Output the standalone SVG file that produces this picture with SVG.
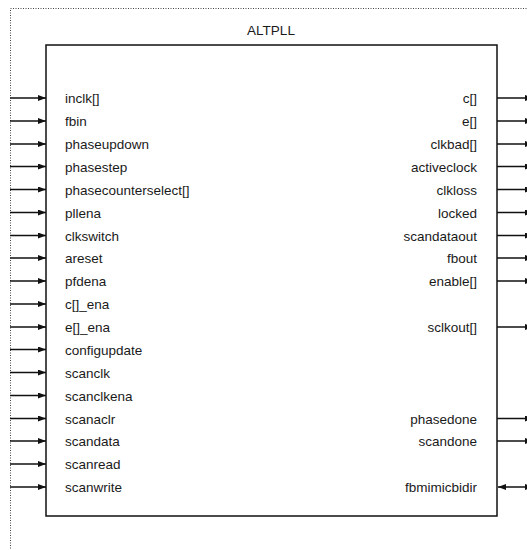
<svg xmlns="http://www.w3.org/2000/svg" width="527" height="550" viewBox="0 0 527 550">
<defs>
<style>
.t{font-family:"Liberation Sans",Arial,sans-serif;font-size:13.5px;fill:#1a1a1a}
.r{text-anchor:end}
.w{stroke:#111;stroke-width:1.3;fill:none}
.o{fill:none;stroke:#444;stroke-width:1;stroke-dasharray:1 1.5}
.box{fill:#fff;stroke:#111;stroke-width:1.5}
</style>
<marker id="ah" viewBox="0 0 8 6" refX="8" refY="3" markerWidth="8" markerHeight="6" markerUnits="userSpaceOnUse" orient="auto-start-reverse">
<path d="M0,0 L8,3 L0,6 Z" fill="#111"/>
</marker>
</defs>
<rect class="o" x="10.5" y="8.5" width="540" height="560"/>
<g id="altpll">
<rect class="box" x="46" y="45" width="451" height="471"/>
<text class="t" x="271" y="35" text-anchor="middle">ALTPLL</text>
</g>
<g id="connectors">
<line class="w" x1="10" y1="98" x2="46" y2="98" marker-end="url(#ah)"/>
<line class="w" x1="10" y1="121" x2="46" y2="121" marker-end="url(#ah)"/>
<line class="w" x1="10" y1="144" x2="46" y2="144" marker-end="url(#ah)"/>
<line class="w" x1="10" y1="166.5" x2="46" y2="166.5" marker-end="url(#ah)"/>
<line class="w" x1="10" y1="189.5" x2="46" y2="189.5" marker-end="url(#ah)"/>
<line class="w" x1="10" y1="212.5" x2="46" y2="212.5" marker-end="url(#ah)"/>
<line class="w" x1="10" y1="235.5" x2="46" y2="235.5" marker-end="url(#ah)"/>
<line class="w" x1="10" y1="258" x2="46" y2="258" marker-end="url(#ah)"/>
<line class="w" x1="10" y1="281" x2="46" y2="281" marker-end="url(#ah)"/>
<line class="w" x1="10" y1="304" x2="46" y2="304" marker-end="url(#ah)"/>
<line class="w" x1="10" y1="327" x2="46" y2="327" marker-end="url(#ah)"/>
<line class="w" x1="10" y1="349.5" x2="46" y2="349.5" marker-end="url(#ah)"/>
<line class="w" x1="10" y1="372.5" x2="46" y2="372.5" marker-end="url(#ah)"/>
<line class="w" x1="10" y1="395.5" x2="46" y2="395.5" marker-end="url(#ah)"/>
<line class="w" x1="10" y1="418.5" x2="46" y2="418.5" marker-end="url(#ah)"/>
<line class="w" x1="10" y1="441" x2="46" y2="441" marker-end="url(#ah)"/>
<line class="w" x1="10" y1="464" x2="46" y2="464" marker-end="url(#ah)"/>
<line class="w" x1="10" y1="487" x2="46" y2="487" marker-end="url(#ah)"/>

<line class="w" x1="497" y1="98" x2="533" y2="98" marker-end="url(#ah)"/>
<line class="w" x1="497" y1="121" x2="533" y2="121" marker-end="url(#ah)"/>
<line class="w" x1="497" y1="144" x2="533" y2="144" marker-end="url(#ah)"/>
<line class="w" x1="497" y1="166.5" x2="533" y2="166.5" marker-end="url(#ah)"/>
<line class="w" x1="497" y1="189.5" x2="533" y2="189.5" marker-end="url(#ah)"/>
<line class="w" x1="497" y1="212.5" x2="533" y2="212.5" marker-end="url(#ah)"/>
<line class="w" x1="497" y1="235.5" x2="533" y2="235.5" marker-end="url(#ah)"/>
<line class="w" x1="497" y1="258" x2="533" y2="258" marker-end="url(#ah)"/>
<line class="w" x1="497" y1="281" x2="533" y2="281" marker-end="url(#ah)"/>
<line class="w" x1="497" y1="327" x2="533" y2="327" marker-end="url(#ah)"/>
<line class="w" x1="497" y1="418.5" x2="533" y2="418.5" marker-end="url(#ah)"/>
<line class="w" x1="497" y1="441" x2="533" y2="441" marker-end="url(#ah)"/>
<line class="w" x1="498" y1="487" x2="533" y2="487" marker-start="url(#ah)" marker-end="url(#ah)"/>
</g>
<g id="ports">
<text class="t" x="65" y="103">inclk[]</text>
<text class="t" x="65" y="126">fbin</text>
<text class="t" x="65" y="149">phaseupdown</text>
<text class="t" x="65" y="171.5">phasestep</text>
<text class="t" x="65" y="194.5">phasecounterselect[]</text>
<text class="t" x="65" y="217.5">pllena</text>
<text class="t" x="65" y="240.5">clkswitch</text>
<text class="t" x="65" y="263">areset</text>
<text class="t" x="65" y="286">pfdena</text>
<text class="t" x="65" y="309">c[]_ena</text>
<text class="t" x="65" y="332">e[]_ena</text>
<text class="t" x="65" y="354.5">configupdate</text>
<text class="t" x="65" y="377.5">scanclk</text>
<text class="t" x="65" y="400.5">scanclkena</text>
<text class="t" x="65" y="423.5">scanaclr</text>
<text class="t" x="65" y="446">scandata</text>
<text class="t" x="65" y="469">scanread</text>
<text class="t" x="65" y="492">scanwrite</text>

<text class="t r" x="477" y="103">c[]</text>
<text class="t r" x="477" y="126">e[]</text>
<text class="t r" x="477" y="149">clkbad[]</text>
<text class="t r" x="477" y="171.5">activeclock</text>
<text class="t r" x="477" y="194.5">clkloss</text>
<text class="t r" x="477" y="217.5">locked</text>
<text class="t r" x="477" y="240.5">scandataout</text>
<text class="t r" x="477" y="263">fbout</text>
<text class="t r" x="477" y="286">enable[]</text>
<text class="t r" x="477" y="332">sclkout[]</text>
<text class="t r" x="477" y="423.5">phasedone</text>
<text class="t r" x="477" y="446">scandone</text>
<text class="t r" x="477" y="492">fbmimicbidir</text>
</g>
</svg>
